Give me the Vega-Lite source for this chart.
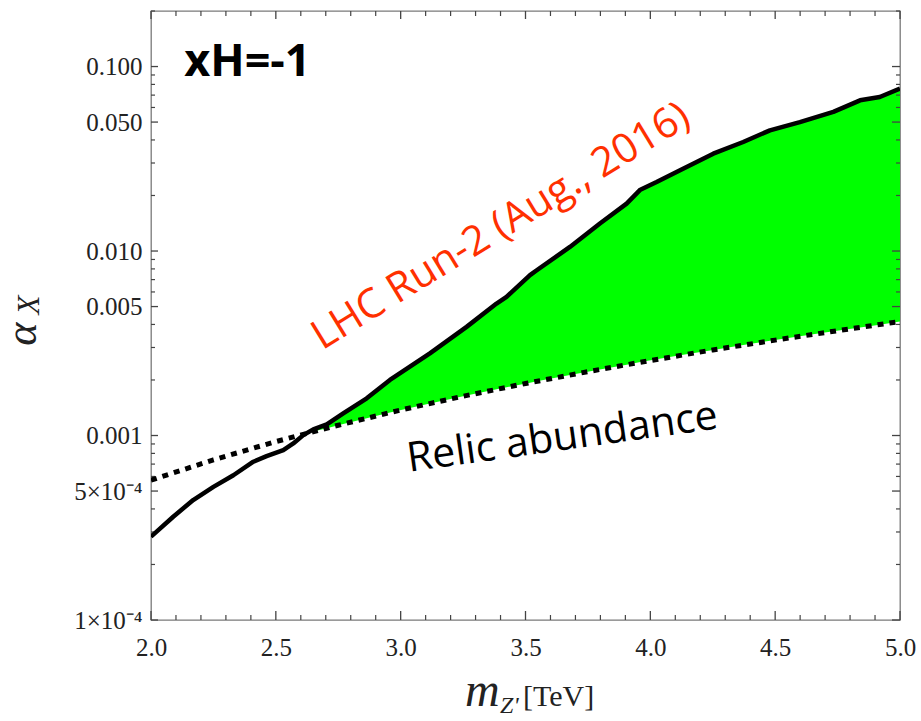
{
  "$schema": "https://vega.github.io/schema/vega-lite/v6.json",
  "width": 749,
  "height": 609,
  "autosize": {"type": "none"},
  "padding": {"left": 151, "top": 11, "right": 21, "bottom": 101},
  "background": "white",
  "config": {
    "view": {"stroke": "#7a7a7a", "strokeWidth": 1.3},
    "axis": {
      "labelFont": "Liberation Serif",
      "labelFontSize": 25,
      "labelColor": "#222222",
      "domain": false,
      "ticks": false,
      "grid": false,
      "labelOverlap": false,
      "labelBound": false,
      "labelFlush": false,
      "title": null
    }
  },
  "datasets": {
    "lhc": [
      {"m": 2.000, "alpha": 0.000283},
      {"m": 2.089, "alpha": 0.000363},
      {"m": 2.169, "alpha": 0.000447},
      {"m": 2.250, "alpha": 0.000527},
      {"m": 2.330, "alpha": 0.000609},
      {"m": 2.410, "alpha": 0.000721},
      {"m": 2.463, "alpha": 0.000773},
      {"m": 2.530, "alpha": 0.000834},
      {"m": 2.570, "alpha": 0.000906},
      {"m": 2.610, "alpha": 0.001005},
      {"m": 2.650, "alpha": 0.00108},
      {"m": 2.704, "alpha": 0.001148},
      {"m": 2.770, "alpha": 0.001318},
      {"m": 2.864, "alpha": 0.00159},
      {"m": 2.957, "alpha": 0.0020},
      {"m": 3.117, "alpha": 0.00279},
      {"m": 3.264, "alpha": 0.00388},
      {"m": 3.384, "alpha": 0.00519},
      {"m": 3.424, "alpha": 0.00564},
      {"m": 3.518, "alpha": 0.0074},
      {"m": 3.545, "alpha": 0.00787},
      {"m": 3.678, "alpha": 0.01052},
      {"m": 3.798, "alpha": 0.01409},
      {"m": 3.905, "alpha": 0.01807},
      {"m": 3.960, "alpha": 0.0215},
      {"m": 4.025, "alpha": 0.02366},
      {"m": 4.119, "alpha": 0.0274},
      {"m": 4.252, "alpha": 0.0337},
      {"m": 4.372, "alpha": 0.039},
      {"m": 4.479, "alpha": 0.0451},
      {"m": 4.599, "alpha": 0.050},
      {"m": 4.733, "alpha": 0.0568},
      {"m": 4.840, "alpha": 0.0656},
      {"m": 4.919, "alpha": 0.0684},
      {"m": 5.000, "alpha": 0.0759}
    ],
    "relic": [
      {"m": 2.00, "alpha": 0.000573},
      {"m": 2.25, "alpha": 0.000738},
      {"m": 2.50, "alpha": 0.000927},
      {"m": 2.75, "alpha": 0.001137},
      {"m": 3.00, "alpha": 0.001375},
      {"m": 3.25, "alpha": 0.001633},
      {"m": 3.50, "alpha": 0.001914},
      {"m": 3.75, "alpha": 0.00222},
      {"m": 4.00, "alpha": 0.00255},
      {"m": 4.25, "alpha": 0.00291},
      {"m": 4.50, "alpha": 0.00329},
      {"m": 4.75, "alpha": 0.0037},
      {"m": 5.00, "alpha": 0.00415}
    ],
    "band": [
      {"m": 2.620, "lo": 0.00102, "hi": 0.00102},
      {"m": 2.650, "lo": 0.00105, "hi": 0.00108},
      {"m": 2.704, "lo": 0.001096, "hi": 0.001148},
      {"m": 2.770, "lo": 0.001155, "hi": 0.001318},
      {"m": 2.864, "lo": 0.001242, "hi": 0.00159},
      {"m": 2.957, "lo": 0.001331, "hi": 0.0020},
      {"m": 3.117, "lo": 0.00149, "hi": 0.00279},
      {"m": 3.264, "lo": 0.001647, "hi": 0.00388},
      {"m": 3.384, "lo": 0.00178, "hi": 0.00519},
      {"m": 3.424, "lo": 0.001825, "hi": 0.00564},
      {"m": 3.518, "lo": 0.001934, "hi": 0.0074},
      {"m": 3.545, "lo": 0.001967, "hi": 0.00787},
      {"m": 3.678, "lo": 0.00213, "hi": 0.01052},
      {"m": 3.798, "lo": 0.00228, "hi": 0.01409},
      {"m": 3.905, "lo": 0.00242, "hi": 0.01807},
      {"m": 3.960, "lo": 0.0025, "hi": 0.0215},
      {"m": 4.025, "lo": 0.00259, "hi": 0.02366},
      {"m": 4.119, "lo": 0.00272, "hi": 0.0274},
      {"m": 4.252, "lo": 0.00291, "hi": 0.0337},
      {"m": 4.372, "lo": 0.00309, "hi": 0.039},
      {"m": 4.479, "lo": 0.00326, "hi": 0.0451},
      {"m": 4.599, "lo": 0.00345, "hi": 0.050},
      {"m": 4.733, "lo": 0.00367, "hi": 0.0568},
      {"m": 4.840, "lo": 0.00385, "hi": 0.0656},
      {"m": 4.919, "lo": 0.00399, "hi": 0.0684},
      {"m": 5.000, "lo": 0.00415, "hi": 0.0759}
    ],
    "xmajor": [{"v": 2}, {"v": 2.5}, {"v": 3}, {"v": 3.5}, {"v": 4}, {"v": 4.5}, {"v": 5}],
    "xminor": [{"v": 2.1}, {"v": 2.2}, {"v": 2.3}, {"v": 2.4}, {"v": 2.6}, {"v": 2.7}, {"v": 2.8}, {"v": 2.9}, {"v": 3.1}, {"v": 3.2}, {"v": 3.3}, {"v": 3.4}, {"v": 3.6}, {"v": 3.7}, {"v": 3.8}, {"v": 3.9}, {"v": 4.1}, {"v": 4.2}, {"v": 4.3}, {"v": 4.4}, {"v": 4.6}, {"v": 4.7}, {"v": 4.8}, {"v": 4.9}],
    "ymajor": [{"v": 0.0001}, {"v": 0.0005}, {"v": 0.001}, {"v": 0.005}, {"v": 0.01}, {"v": 0.05}, {"v": 0.1}],
    "yminor": [{"v": 0.0002}, {"v": 0.0003}, {"v": 0.0004}, {"v": 0.0006}, {"v": 0.0007}, {"v": 0.0008}, {"v": 0.0009}, {"v": 0.002}, {"v": 0.003}, {"v": 0.004}, {"v": 0.006}, {"v": 0.007}, {"v": 0.008}, {"v": 0.009}, {"v": 0.02}, {"v": 0.03}, {"v": 0.04}, {"v": 0.06}, {"v": 0.07}, {"v": 0.08}, {"v": 0.09}, {"v": 0.2}],
    "one": [{}]
  },
  "layer": [
    {
      "data": {"name": "band"},
      "mark": {"type": "area", "color": "#00ff00", "opacity": 1, "clip": true},
      "encoding": {
        "x": {
          "field": "m", "type": "quantitative",
          "scale": {"domain": [2, 5], "nice": false, "zero": false},
          "axis": {"orient": "bottom", "values": [2, 2.5, 3, 3.5, 4, 4.5, 5], "format": ".1f", "ticks": false, "labelPadding": 15}
        },
        "y": {
          "field": "hi", "type": "quantitative",
          "scale": {"type": "log", "domain": [0.0001, 0.2], "nice": false},
          "axis": {
            "orient": "left",
            "values": [0.0001, 0.0005, 0.001, 0.005, 0.01, 0.05, 0.1],
            "labelExpr": "datum.value < 0.0002 ? '1×10⁻⁴' : datum.value < 0.0008 ? '5×10⁻⁴' : datum.value < 0.002 ? '0.001' : datum.value < 0.008 ? '0.005' : datum.value < 0.02 ? '0.010' : datum.value < 0.08 ? '0.050' : '0.100'",
            "ticks": false,
            "labelPadding": 9
          }
        },
        "y2": {"field": "lo"}
      }
    },
    {
      "data": {"name": "xmajor"},
      "mark": {"type": "tick", "orient": "vertical", "size": 9, "thickness": 1.3, "color": "#444444", "opacity": 1, "yOffset": -4.5},
      "encoding": {
        "x": {"field": "v", "type": "quantitative", "scale": {"domain": [2, 5], "nice": false, "zero": false}},
        "y": {"datum": 0.0001, "type": "quantitative", "scale": {"type": "log", "domain": [0.0001, 0.2], "nice": false}}
      }
    },
    {
      "data": {"name": "xminor"},
      "mark": {"type": "tick", "orient": "vertical", "size": 5, "thickness": 1.2, "color": "#444444", "opacity": 1, "yOffset": -2.5},
      "encoding": {
        "x": {"field": "v", "type": "quantitative", "scale": {"domain": [2, 5], "nice": false, "zero": false}},
        "y": {"datum": 0.0001, "type": "quantitative", "scale": {"type": "log", "domain": [0.0001, 0.2], "nice": false}}
      }
    },
    {
      "data": {"name": "xmajor"},
      "mark": {"type": "tick", "orient": "vertical", "size": 8, "thickness": 1.3, "color": "#444444", "opacity": 1, "yOffset": 4},
      "encoding": {
        "x": {"field": "v", "type": "quantitative", "scale": {"domain": [2, 5], "nice": false, "zero": false}},
        "y": {"datum": 0.2, "type": "quantitative", "scale": {"type": "log", "domain": [0.0001, 0.2], "nice": false}}
      }
    },
    {
      "data": {"name": "xminor"},
      "mark": {"type": "tick", "orient": "vertical", "size": 5, "thickness": 1.2, "color": "#444444", "opacity": 1, "yOffset": 2.5},
      "encoding": {
        "x": {"field": "v", "type": "quantitative", "scale": {"domain": [2, 5], "nice": false, "zero": false}},
        "y": {"datum": 0.2, "type": "quantitative", "scale": {"type": "log", "domain": [0.0001, 0.2], "nice": false}}
      }
    },
    {
      "data": {"name": "ymajor"},
      "mark": {"type": "tick", "orient": "horizontal", "size": 7, "thickness": 1.3, "color": "#444444", "opacity": 1, "xOffset": 3.5},
      "encoding": {
        "x": {"datum": 2, "type": "quantitative", "scale": {"domain": [2, 5], "nice": false, "zero": false}},
        "y": {"field": "v", "type": "quantitative", "scale": {"type": "log", "domain": [0.0001, 0.2], "nice": false}}
      }
    },
    {
      "data": {"name": "yminor"},
      "mark": {"type": "tick", "orient": "horizontal", "size": 4, "thickness": 1.2, "color": "#444444", "opacity": 1, "xOffset": 2},
      "encoding": {
        "x": {"datum": 2, "type": "quantitative", "scale": {"domain": [2, 5], "nice": false, "zero": false}},
        "y": {"field": "v", "type": "quantitative", "scale": {"type": "log", "domain": [0.0001, 0.2], "nice": false}}
      }
    },
    {
      "data": {"name": "ymajor"},
      "mark": {"type": "tick", "orient": "horizontal", "size": 8, "thickness": 1.3, "color": "#444444", "opacity": 1, "xOffset": -4},
      "encoding": {
        "x": {"datum": 5, "type": "quantitative", "scale": {"domain": [2, 5], "nice": false, "zero": false}},
        "y": {"field": "v", "type": "quantitative", "scale": {"type": "log", "domain": [0.0001, 0.2], "nice": false}}
      }
    },
    {
      "data": {"name": "yminor"},
      "mark": {"type": "tick", "orient": "horizontal", "size": 4, "thickness": 1.2, "color": "#444444", "opacity": 1, "xOffset": -2},
      "encoding": {
        "x": {"datum": 5, "type": "quantitative", "scale": {"domain": [2, 5], "nice": false, "zero": false}},
        "y": {"field": "v", "type": "quantitative", "scale": {"type": "log", "domain": [0.0001, 0.2], "nice": false}}
      }
    },
    {
      "data": {"name": "lhc"},
      "mark": {"type": "line", "color": "black", "strokeWidth": 4.5, "strokeJoin": "round", "strokeCap": "butt", "clip": true},
      "encoding": {
        "x": {"field": "m", "type": "quantitative", "scale": {"domain": [2, 5], "nice": false, "zero": false}},
        "y": {"field": "alpha", "type": "quantitative", "scale": {"type": "log", "domain": [0.0001, 0.2], "nice": false}}
      }
    },
    {
      "data": {"name": "relic"},
      "mark": {"type": "line", "color": "black", "strokeWidth": 5, "strokeDash": [6, 6], "strokeCap": "butt", "clip": true},
      "encoding": {
        "x": {"field": "m", "type": "quantitative", "scale": {"domain": [2, 5], "nice": false, "zero": false}},
        "y": {"field": "alpha", "type": "quantitative", "scale": {"type": "log", "domain": [0.0001, 0.2], "nice": false}}
      }
    },
    {
      "data": {"name": "one"},
      "mark": {"type": "text", "text": "xH=-1", "font": "Open Sans", "fontWeight": "bold", "fontSize": 45, "color": "black", "align": "center", "baseline": "middle"},
      "encoding": {
        "x": {"datum": 2.386, "type": "quantitative", "scale": {"domain": [2, 5], "nice": false, "zero": false}},
        "y": {"datum": 0.1055, "type": "quantitative", "scale": {"type": "log", "domain": [0.0001, 0.2], "nice": false}}
      }
    },
    {
      "data": {"name": "one"},
      "mark": {"type": "text", "text": "LHC Run-2 (Aug., 2016)", "font": "Open Sans", "fontSize": 41, "color": "#ff3000", "align": "center", "baseline": "middle", "angle": -31.5},
      "encoding": {
        "x": {"datum": 3.402, "type": "quantitative", "scale": {"domain": [2, 5], "nice": false, "zero": false}},
        "y": {"datum": 0.01355, "type": "quantitative", "scale": {"type": "log", "domain": [0.0001, 0.2], "nice": false}}
      }
    },
    {
      "data": {"name": "one"},
      "mark": {"type": "text", "text": "Relic abundance", "font": "Open Sans", "fontSize": 41, "color": "black", "align": "center", "baseline": "middle", "angle": -8},
      "encoding": {
        "x": {"datum": 3.648, "type": "quantitative", "scale": {"domain": [2, 5], "nice": false, "zero": false}},
        "y": {"datum": 0.000968, "type": "quantitative", "scale": {"type": "log", "domain": [0.0001, 0.2], "nice": false}}
      }
    },
    {
      "data": {"name": "one"},
      "mark": {"type": "text", "text": "m", "font": "Liberation Serif", "fontStyle": "italic", "fontSize": 48, "color": "#222222", "align": "left", "baseline": "alphabetic"},
      "encoding": {
        "x": {"datum": 3.2575, "type": "quantitative", "scale": {"domain": [2, 5], "nice": false, "zero": false}},
        "y": {"datum": 0.0000341, "type": "quantitative", "scale": {"type": "log", "domain": [0.0001, 0.2], "nice": false}}
      }
    },
    {
      "data": {"name": "one"},
      "mark": {"type": "text", "text": "Z'", "font": "Liberation Serif", "fontStyle": "italic", "fontSize": 24, "color": "#222222", "align": "left", "baseline": "alphabetic"},
      "encoding": {
        "x": {"datum": 3.398, "type": "quantitative", "scale": {"domain": [2, 5], "nice": false, "zero": false}},
        "y": {"datum": 0.0000315, "type": "quantitative", "scale": {"type": "log", "domain": [0.0001, 0.2], "nice": false}}
      }
    },
    {
      "data": {"name": "one"},
      "mark": {"type": "text", "text": "[TeV]", "font": "Liberation Serif", "fontSize": 30, "color": "#222222", "align": "left", "baseline": "alphabetic"},
      "encoding": {
        "x": {"datum": 3.4898, "type": "quantitative", "scale": {"domain": [2, 5], "nice": false, "zero": false}},
        "y": {"datum": 0.0000341, "type": "quantitative", "scale": {"type": "log", "domain": [0.0001, 0.2], "nice": false}}
      }
    },
    {
      "data": {"name": "one"},
      "mark": {"type": "text", "text": "α", "font": "Liberation Serif", "fontStyle": "italic", "fontSize": 44, "color": "#222222", "align": "center", "baseline": "alphabetic", "angle": 270},
      "encoding": {
        "x": {"datum": 1.54, "type": "quantitative", "scale": {"domain": [2, 5], "nice": false, "zero": false}},
        "y": {"datum": 0.00354, "type": "quantitative", "scale": {"type": "log", "domain": [0.0001, 0.2], "nice": false}}
      }
    },
    {
      "data": {"name": "one"},
      "mark": {"type": "text", "text": "X", "font": "Liberation Serif", "fontStyle": "italic", "fontSize": 31, "color": "#222222", "align": "center", "baseline": "alphabetic", "angle": 270},
      "encoding": {
        "x": {"datum": 1.55, "type": "quantitative", "scale": {"domain": [2, 5], "nice": false, "zero": false}},
        "y": {"datum": 0.0051, "type": "quantitative", "scale": {"type": "log", "domain": [0.0001, 0.2], "nice": false}}
      }
    }
  ]
}
